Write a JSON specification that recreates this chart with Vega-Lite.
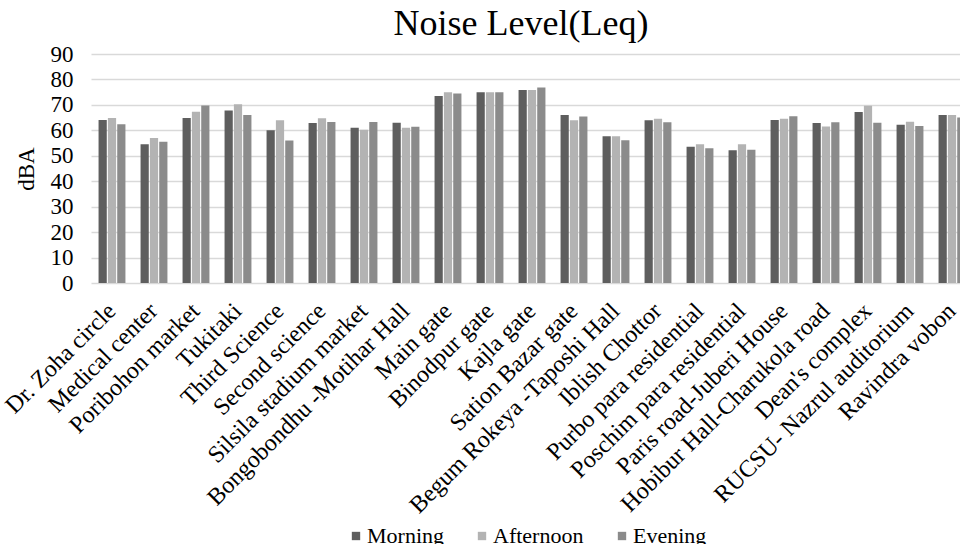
{
  "$schema": "https://vega.github.io/schema/vega-lite/v6.json",
  "autosize": {"type": "none"},
  "padding": {"left": 91, "top": 54, "right": -13, "bottom": 261},
  "width": 882,
  "height": 229,
  "background": "white",
  "config": {
    "font": "Liberation Serif",
    "view": {"stroke": null},
    "axis": {"labelColor": "#000000", "titleColor": "#000000"}
  },
  "title": {
    "text": "Noise Level(Leq)",
    "fontSize": 36,
    "fontWeight": "normal",
    "color": "#000000",
    "font": "Liberation Serif",
    "anchor": "middle",
    "dx": -11,
    "dy": 6,
    "offset": 6
  },
  "data": {
    "values": [
      {"location": "Dr. Zoha circle", "period": "Morning", "value": 64.1},
      {"location": "Dr. Zoha circle", "period": "Afternoon", "value": 64.8},
      {"location": "Dr. Zoha circle", "period": "Evening", "value": 62.4},
      {"location": "Medical center", "period": "Morning", "value": 54.5},
      {"location": "Medical center", "period": "Afternoon", "value": 57},
      {"location": "Medical center", "period": "Evening", "value": 55.5},
      {"location": "Poribohon market", "period": "Morning", "value": 64.8},
      {"location": "Poribohon market", "period": "Afternoon", "value": 67.3},
      {"location": "Poribohon market", "period": "Evening", "value": 69.8},
      {"location": "Tukitaki", "period": "Morning", "value": 67.8},
      {"location": "Tukitaki", "period": "Afternoon", "value": 70.3},
      {"location": "Tukitaki", "period": "Evening", "value": 66},
      {"location": "Third Science", "period": "Morning", "value": 60},
      {"location": "Third Science", "period": "Afternoon", "value": 64},
      {"location": "Third Science", "period": "Evening", "value": 56},
      {"location": "Second science", "period": "Morning", "value": 62.9},
      {"location": "Second science", "period": "Afternoon", "value": 64.7},
      {"location": "Second science", "period": "Evening", "value": 63.3},
      {"location": "Silsila stadium market", "period": "Morning", "value": 61},
      {"location": "Silsila stadium market", "period": "Afternoon", "value": 60.2},
      {"location": "Silsila stadium market", "period": "Evening", "value": 63.3},
      {"location": "Bongobondhu -Motihar Hall", "period": "Morning", "value": 63},
      {"location": "Bongobondhu -Motihar Hall", "period": "Afternoon", "value": 61},
      {"location": "Bongobondhu -Motihar Hall", "period": "Evening", "value": 61.4},
      {"location": "Main gate", "period": "Morning", "value": 73.5},
      {"location": "Main gate", "period": "Afternoon", "value": 75},
      {"location": "Main gate", "period": "Evening", "value": 74.5},
      {"location": "Binodpur gate", "period": "Morning", "value": 75},
      {"location": "Binodpur gate", "period": "Afternoon", "value": 75},
      {"location": "Binodpur gate", "period": "Evening", "value": 75},
      {"location": "Kajla gate", "period": "Morning", "value": 75.9},
      {"location": "Kajla gate", "period": "Afternoon", "value": 75.9},
      {"location": "Kajla gate", "period": "Evening", "value": 76.8},
      {"location": "Sation Bazar gate", "period": "Morning", "value": 66},
      {"location": "Sation Bazar gate", "period": "Afternoon", "value": 64},
      {"location": "Sation Bazar gate", "period": "Evening", "value": 65.4},
      {"location": "Begum Rokeya -Taposhi Hall", "period": "Morning", "value": 57.7},
      {"location": "Begum Rokeya -Taposhi Hall", "period": "Afternoon", "value": 57.7},
      {"location": "Begum Rokeya -Taposhi Hall", "period": "Evening", "value": 56.1},
      {"location": "Iblish Chottor", "period": "Morning", "value": 64},
      {"location": "Iblish Chottor", "period": "Afternoon", "value": 64.6},
      {"location": "Iblish Chottor", "period": "Evening", "value": 63.2},
      {"location": "Purbo para residential", "period": "Morning", "value": 53.5},
      {"location": "Purbo para residential", "period": "Afternoon", "value": 54.5},
      {"location": "Purbo para residential", "period": "Evening", "value": 53},
      {"location": "Poschim para residential", "period": "Morning", "value": 52.2},
      {"location": "Poschim para residential", "period": "Afternoon", "value": 54.5},
      {"location": "Poschim para residential", "period": "Evening", "value": 52.4},
      {"location": "Paris road-Juberi House", "period": "Morning", "value": 64.1},
      {"location": "Paris road-Juberi House", "period": "Afternoon", "value": 64.6},
      {"location": "Paris road-Juberi House", "period": "Evening", "value": 65.5},
      {"location": "Hobibur Hall-Charukola road", "period": "Morning", "value": 62.9},
      {"location": "Hobibur Hall-Charukola road", "period": "Afternoon", "value": 61.5},
      {"location": "Hobibur Hall-Charukola road", "period": "Evening", "value": 63.2},
      {"location": "Dean's complex", "period": "Morning", "value": 67.2},
      {"location": "Dean's complex", "period": "Afternoon", "value": 69.7},
      {"location": "Dean's complex", "period": "Evening", "value": 63},
      {"location": "RUCSU- Nazrul auditorium", "period": "Morning", "value": 62.2},
      {"location": "RUCSU- Nazrul auditorium", "period": "Afternoon", "value": 63.4},
      {"location": "RUCSU- Nazrul auditorium", "period": "Evening", "value": 61.7},
      {"location": "Ravindra vobon", "period": "Morning", "value": 66},
      {"location": "Ravindra vobon", "period": "Afternoon", "value": 66},
      {"location": "Ravindra vobon", "period": "Evening", "value": 65}
    ]
  },
  "mark": {"type": "bar"},
  "encoding": {
    "x": {
      "field": "location",
      "type": "nominal",
      "sort": null,
      "scale": {"paddingInner": 0.36, "paddingOuter": 0.18},
      "axis": {
        "title": null,
        "labelAngle": -45,
        "labelAlign": "right",
        "labelBaseline": "middle",
        "labelFontSize": 24,
        "labelPadding": 24,
        "labelLimit": 400,
        "labelOverlap": false,
        "domain": false,
        "ticks": false,
        "grid": false
      }
    },
    "xOffset": {
      "field": "period",
      "type": "nominal",
      "sort": ["Morning", "Afternoon", "Evening"],
      "scale": {"paddingInner": 0.12}
    },
    "y": {
      "field": "value",
      "type": "quantitative",
      "scale": {"domain": [0, 90], "nice": false},
      "axis": {
        "title": "dBA",
        "titleFontSize": 23,
        "titleFontWeight": "normal",
        "titlePadding": 12,
        "values": [0, 10, 20, 30, 40, 50, 60, 70, 80, 90],
        "labelFontSize": 23,
        "labelPadding": 18,
        "domain": false,
        "ticks": false,
        "grid": true,
        "gridColor": "#d9d9d9",
        "gridWidth": 1.5
      }
    },
    "color": {
      "field": "period",
      "type": "nominal",
      "scale": {
        "domain": ["Morning", "Afternoon", "Evening"],
        "range": ["#5e5e5e", "#b3b3b3", "#8b8b8b"]
      },
      "legend": {
        "title": null,
        "orient": "none",
        "legendX": 254,
        "legendY": 471,
        "direction": "horizontal",
        "symbolType": "square",
        "symbolSize": 70,
        "symbolStrokeWidth": 0,
        "labelFontSize": 22,
        "labelColor": "#000000",
        "labelOffset": 0,
        "columnPadding": 27
      }
    }
  }
}
